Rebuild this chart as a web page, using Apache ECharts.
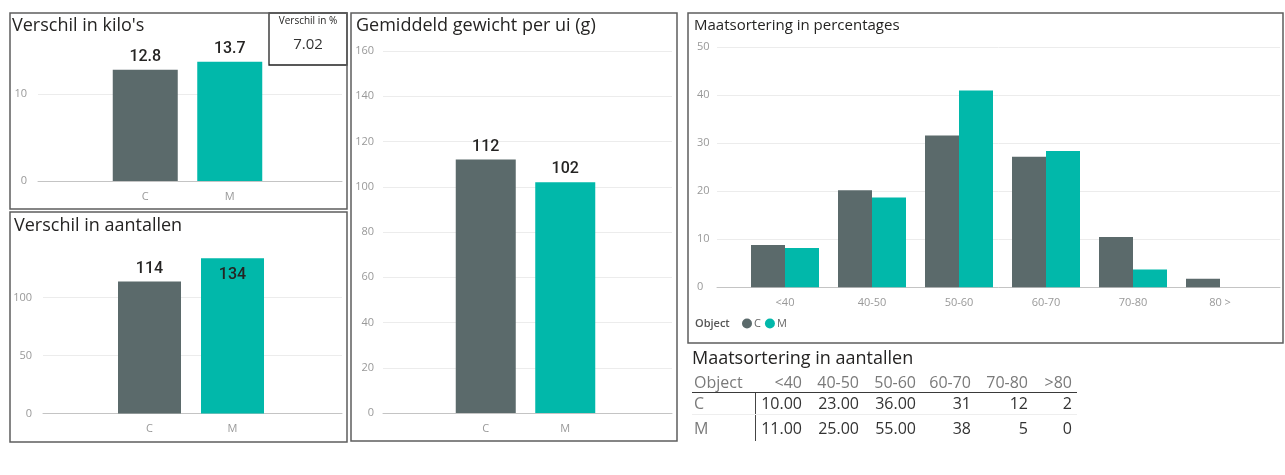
<!DOCTYPE html>
<html>
<head>
<meta charset="utf-8">
<script src="https://cdn.jsdelivr.net/npm/echarts@6/dist/echarts.min.js"></script>
<style>
  html, body { margin: 0; padding: 0; background: #fff; }
  #main { position: absolute; left: 0; top: 0; width: 1285px; height: 475px; }
  #tbl-title { position: absolute; left: 692px; top: 345px; font: 18px "Open Sans", sans-serif; color: #252423; white-space: nowrap; }
  #tbl { position: absolute; left: 692px; top: 372px; border-collapse: collapse; table-layout: fixed; width: 385px;
         font: 16px "Open Sans", sans-serif; }
  #tbl td, #tbl th { padding: 0 5px 0 0; text-align: right; white-space: nowrap; font-weight: normal; }
  #tbl th { color: #7a7a7a; height: 20px; line-height: 20px; border-bottom: 1.5px solid #3a3a3a; }
  #tbl td { color: #333; }
  #tbl .obj { text-align: left; padding-left: 2px; color: #7a7a7a; border-right: 1px solid #444; }
  #tbl th.obj { border-right: none; }
  #tbl tr.r0 td { height: 21px; line-height: 21px; border-bottom: 1px solid #eee; }
  #tbl tr.r1 td { height: 26px; line-height: 26px; }
</style>
</head>
<body>
<div id="main"></div>
<div id="tbl-title">Maatsortering in aantallen</div>
<table id="tbl"></table>
<script>
// --- data ---
const objects = ['C', 'M'];
const kiloValues = [12.8, 13.7];
const kiloDiffPct = '7.02';
const countValues = [114, 134];
const weightValues = [112, 102];

const sizeClasses = ['<40', '40-50', '50-60', '60-70', '70-80', '80 >'];
const pctC = [8.8, 20.2, 31.6, 27.2, 10.5, 1.8];
const pctM = [8.2, 18.7, 41.0, 28.4, 3.7, 0];

const tableHeader = ['<40', '40-50', '50-60', '60-70', '70-80', '>80'];
const countsC = [10, 23, 36, 31, 12, 2];
const countsM = [11, 25, 55, 38, 5, 0];
const tableDecimals = [2, 2, 2, 0, 0, 0];

const barColors = ['#5b6a6b', '#01b8aa'];

// --- table (Maatsortering in aantallen) ---
const colWidths = [63, 52, 57, 57, 55, 57, 44];
let html = '<colgroup>' + colWidths.map(w => '<col style="width:' + w + 'px">').join('') + '</colgroup>';
html += '<tr><th class="obj">Object</th>' + tableHeader.map(h => '<th>' + h + '</th>').join('') + '</tr>';
[countsC, countsM].forEach((row, i) => {
    html += '<tr class="r' + i + '"><td class="obj">' + objects[i] + '</td>' +
        row.map((v, j) => '<td>' + v.toFixed(tableDecimals[j]) + '</td>').join('') + '</tr>';
});
document.getElementById('tbl').innerHTML = html;

// --- chart ---
const grids = [], xAxes = [], yAxes = [], series = [];
const gridLine = '#ececec', baseLine = '#c4c4c4', axisText = '#999';

// background grid: y labels + gridlines + baseline, full width
function addBackground(box, max, interval, labelCfg) {
    const gi = grids.length;
    grids.push({left: box.left, top: box.top, width: box.width, height: box.height, containLabel: false});
    xAxes.push({gridIndex: gi, type: 'value', min: 0, max: 1,
        axisLine: {show: true, lineStyle: {color: baseLine, width: 1}},
        axisTick: {show: false}, axisLabel: {show: false}, splitLine: {show: false}});
    yAxes.push({gridIndex: gi, type: 'value', min: 0, max: max, interval: interval,
        axisLine: {show: false}, axisTick: {show: false},
        axisLabel: Object.assign({color: axisText, fontSize: 11, fontFamily: 'Open Sans', showMaxLabel: max % interval === 0}, labelCfg),
        splitLine: {show: true, showMaxLine: max % interval === 0, lineStyle: {color: gridLine, width: 1}}});
}

// bar grid: narrower, centred bars
function addBarGrid(box, max, cats) {
    const gi = grids.length;
    grids.push({left: box.left, top: box.top, width: box.width, height: box.height, containLabel: false});
    xAxes.push({gridIndex: gi, type: 'category', data: cats,
        axisLine: {show: false}, axisTick: {show: false},
        axisLabel: {color: axisText, fontSize: 11, fontFamily: 'Open Sans', margin: 10}});
    yAxes.push({gridIndex: gi, type: 'value', min: 0, max: max, show: false, splitLine: {show: false}});
    return gi;
}

function barPanel(name, values, max, interval, bg, bars, barWidth, labelMargin) {
    addBackground(bg, max, interval, {margin: labelMargin});
    const gi = addBarGrid(bars, max, objects);
    series.push({
        name: name, type: 'bar', xAxisIndex: gi, yAxisIndex: gi, barWidth: barWidth,
        data: values.map(v => ({
            value: v,
            label: v / max > 0.92 ? {position: 'insideTop', distance: 9} : {position: 'top', distance: 5}
        })),
        itemStyle: {color: p => barColors[p.dataIndex]},
        label: {show: true, fontFamily: 'Roboto', fontSize: 16, fontWeight: 500, color: '#252423'},
        silent: true
    });
}

// Verschil in kilo's
barPanel('kilo', kiloValues, 15, 10,
    {left: 38, top: 50.5, width: 304, height: 130.5},
    {left: 103, top: 50.5, width: 169, height: 130.5}, 65, 11);
// Verschil in aantallen
barPanel('aantal', countValues, 140, 50,
    {left: 43, top: 251.4, width: 299, height: 162.1},
    {left: 108, top: 251.4, width: 166, height: 162.1}, 63, 11);
// Gemiddeld gewicht per ui
barPanel('gewicht', weightValues, 160, 20,
    {left: 383, top: 51, width: 289, height: 362},
    {left: 446, top: 51, width: 159, height: 362}, 60, 9);

// Maatsortering in percentages
addBackground({left: 717, top: 47.3, width: 563, height: 240}, 50, 10, {margin: 20, align: 'left'});
const pg = addBarGrid({left: 741.5, top: 47.3, width: 522, height: 240}, 50, sizeClasses);
[pctC, pctM].forEach((vals, i) => {
    series.push({
        name: objects[i], type: 'bar', xAxisIndex: pg, yAxisIndex: pg,
        barWidth: 34, barGap: '0%', data: vals,
        itemStyle: {color: barColors[i]}
    });
});

const titleFont = 'Open Sans';
const option = {
    animation: false,
    title: [
        {text: "Verschil in kilo's", left: 12, top: 17, padding: 0, textStyle: {fontFamily: titleFont, fontSize: 18, fontWeight: 'normal', color: '#252423'}},
        {text: 'Verschil in %', left: 308, textAlign: 'center', top: 16, padding: 0, textStyle: {fontFamily: titleFont, fontSize: 10, fontWeight: 'normal', color: '#252423'}},
        {text: kiloDiffPct, left: 308, textAlign: 'center', top: 37, padding: 0, textStyle: {fontFamily: titleFont, fontSize: 15, fontWeight: 'normal', color: '#333'}},
        {text: 'Verschil in aantallen', left: 14, top: 217, padding: 0, textStyle: {fontFamily: titleFont, fontSize: 18, fontWeight: 'normal', color: '#252423'}},
        {text: 'Gemiddeld gewicht per ui (g)', left: 356, top: 17, padding: 0, textStyle: {fontFamily: titleFont, fontSize: 18, fontWeight: 'normal', color: '#252423'}},
        {text: 'Maatsortering in percentages', left: 694, top: 18, padding: 0, textStyle: {fontFamily: titleFont, fontSize: 15, fontWeight: 'normal', color: '#252423'}},
        {text: 'Object', left: 695, top: 318, padding: 0, textStyle: {fontFamily: titleFont, fontSize: 11, fontWeight: 600, color: '#555'}}
    ],
    legend: {
        data: objects, left: 742, top: 318, padding: 0, icon: 'circle',
        itemWidth: 10, itemHeight: 10, itemGap: 4,
        textStyle: {fontFamily: titleFont, fontSize: 11, color: '#666', padding: [0, 0, 0, -3]}
    },
    grid: grids,
    xAxis: xAxes,
    yAxis: yAxes,
    series: series,
    graphic: [
        {type: 'rect', shape: {x: 10, y: 13, width: 337, height: 196}, style: {fill: 'none', stroke: '#5e5e5e', lineWidth: 1.5}, z: 10},
        {type: 'rect', shape: {x: 269, y: 13, width: 78, height: 52}, style: {fill: '#fff', stroke: '#222', lineWidth: 1.3}, z: 5},
        {type: 'rect', shape: {x: 10, y: 212, width: 337, height: 230}, style: {fill: 'none', stroke: '#5e5e5e', lineWidth: 1.5}, z: 10},
        {type: 'rect', shape: {x: 351, y: 13, width: 326, height: 428}, style: {fill: 'none', stroke: '#5e5e5e', lineWidth: 1.5}, z: 10},
        {type: 'rect', shape: {x: 688, y: 13, width: 595, height: 330}, style: {fill: 'none', stroke: '#5e5e5e', lineWidth: 1.5}, z: 10}
    ]
};

const myChart = echarts.init(document.getElementById('main'), null, {renderer: 'canvas'});
myChart.setOption(option);
</script>
</body>
</html>
